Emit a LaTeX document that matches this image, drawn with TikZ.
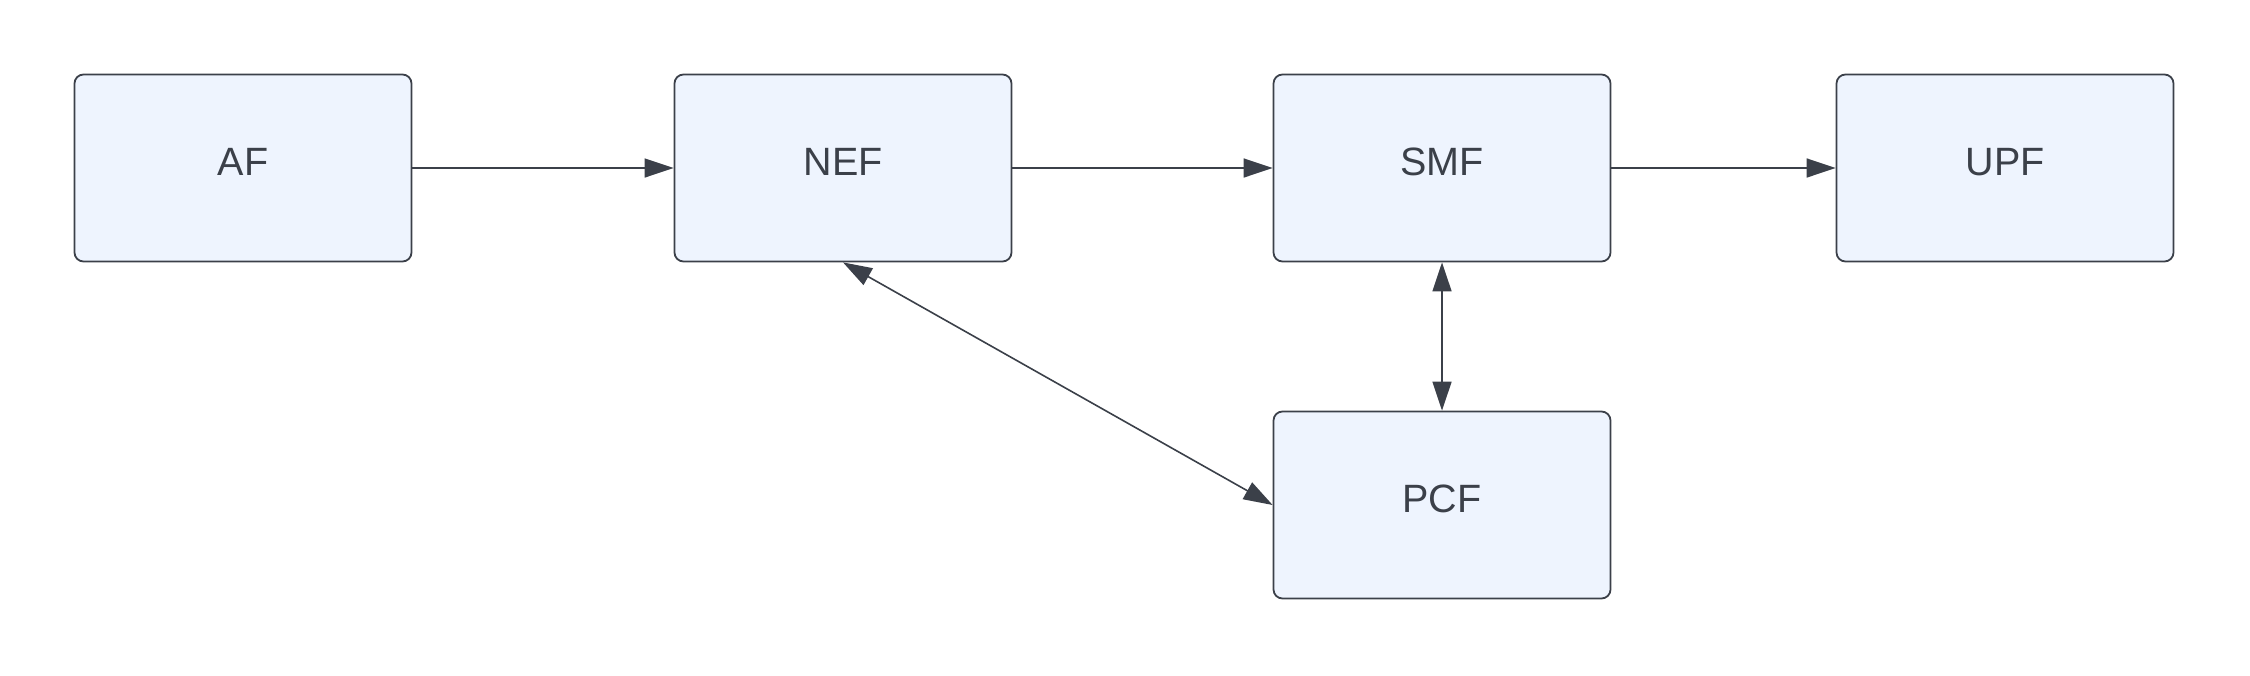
\documentclass[tikz,border=0pt]{standalone}
\usepackage{fontspec}
\setmainfont{Liberation Sans}
\usetikzlibrary{arrows.meta}
\definecolor{ink}{HTML}{3B4049}
\definecolor{boxfill}{HTML}{EEF4FE}
\begin{document}
\begin{tikzpicture}[x=1pt,y=-1pt,
  nf/.style={draw=ink, line width=1.8pt, fill=boxfill, rounded corners=9pt,
    minimum width=337pt, minimum height=187pt, inner sep=0pt,
    font=\fontsize{39.5}{40}\selectfont, text=ink,
    text height=28.5pt, text depth=14.5pt},
  link/.style={draw=ink, line width=1.6pt},
  tip/.style={Triangle[length=29pt, width=19pt]}]
\useasboundingbox (0,0) rectangle (2250,675);
\node[nf] (af)  at (243,168)  {AF};
\node[nf] (nef) at (843,168)  {NEF};
\node[nf] (smf) at (1442,168) {SMF};
\node[nf] (upf) at (2005,168) {UPF};
\node[nf] (pcf) at (1442,505) {PCF};
\draw[link, -{Triangle[length=29pt, width=19pt]}] (af.east) -- (nef.west);
\draw[link, -{Triangle[length=29pt, width=19pt]}] (nef.east) -- (smf.west);
\draw[link, -{Triangle[length=29pt, width=19pt]}] (smf.east) -- (upf.west);
\draw[link, {Triangle[length=29pt, width=19pt]}-{Triangle[length=29pt, width=19pt]}] (smf.south) -- (pcf.north);
\draw[link, {Triangle[length=29pt, width=19pt]}-{Triangle[length=29pt, width=19pt]}] (nef.south) -- (pcf.west);
\end{tikzpicture}
\end{document}
